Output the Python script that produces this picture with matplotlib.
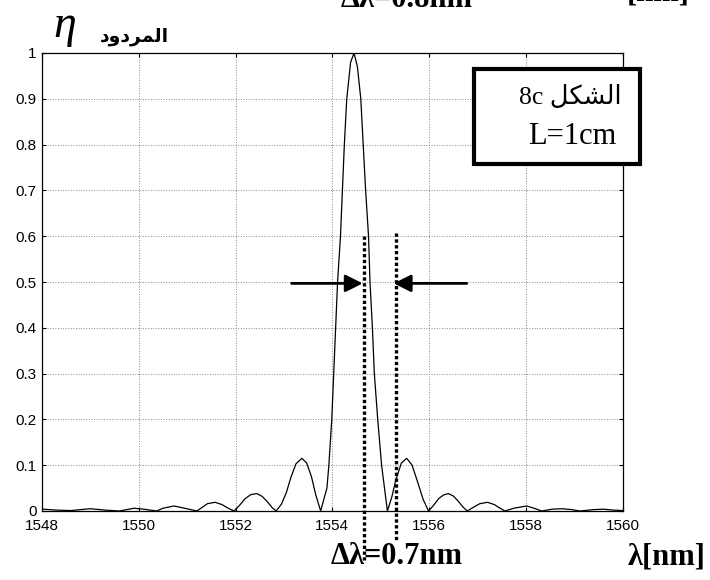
import matplotlib
matplotlib.use('Agg')
import matplotlib.pyplot as plt
from matplotlib.patches import Rectangle

# 全局样式
plt.rcParams['font.family'] = ['Liberation Sans', 'DejaVu Sans']
plt.rcParams['axes.unicode_minus'] = False

# 反射谱数据
wavelength = [1548.0, 1548.3, 1548.6, 1549.0, 1549.3, 1549.6, 1549.9, 1550.1,
              1550.37, 1550.5, 1550.73, 1550.95, 1551.2,
              1551.3, 1551.42, 1551.58, 1551.72, 1551.85, 1551.97,
              1552.08, 1552.2, 1552.32, 1552.44, 1552.55, 1552.66, 1552.76, 1552.84,
              1552.95, 1553.05, 1553.15, 1553.25, 1553.37, 1553.47, 1553.57, 1553.66, 1553.76,
              1553.89, 1553.93, 1553.99, 1554.03, 1554.07, 1554.11, 1554.17, 1554.21,
              1554.25, 1554.30, 1554.38, 1554.45, 1554.52, 1554.59, 1554.64, 1554.69,
              1554.75, 1554.78, 1554.83, 1554.87, 1554.94, 1555.02, 1555.14,
              1555.23, 1555.32, 1555.43, 1555.54, 1555.65, 1555.76, 1555.88, 1555.99,
              1556.1, 1556.2, 1556.3, 1556.40, 1556.5, 1556.6, 1556.7, 1556.79,
              1556.9, 1557.05, 1557.21, 1557.35, 1557.47, 1557.57,
              1557.75, 1558.02, 1558.2, 1558.33,
              1558.55, 1558.75, 1558.95, 1559.12, 1559.4, 1559.61, 1559.8, 1560.0]
reflectivity = [0.004, 0.002, 0.001, 0.005, 0.002, 0.0, 0.006, 0.004,
                0.0, 0.006, 0.011, 0.006, 0.0,
                0.007, 0.016, 0.019, 0.014, 0.006, 0.0,
                0.012, 0.027, 0.036, 0.038, 0.032, 0.020, 0.007, 0.0,
                0.015, 0.040, 0.075, 0.103, 0.115, 0.105, 0.075, 0.035, 0.0,
                0.05, 0.1, 0.2, 0.3, 0.4, 0.5, 0.6, 0.7,
                0.8, 0.9, 0.98, 1.0, 0.97, 0.9, 0.8, 0.7,
                0.6, 0.5, 0.4, 0.3, 0.2, 0.1, 0.0,
                0.03, 0.07, 0.105, 0.115, 0.10, 0.065, 0.025, 0.0,
                0.013, 0.027, 0.035, 0.038, 0.033, 0.022, 0.009, 0.0,
                0.007, 0.016, 0.019, 0.014, 0.006, 0.0,
                0.006, 0.011, 0.005, 0.0,
                0.004, 0.005, 0.003, 0.0, 0.003, 0.004, 0.002, 0.001]

x_ticks = [1548, 1550, 1552, 1554, 1556, 1558, 1560]
y_ticks = [0, 0.1, 0.2, 0.3, 0.4, 0.5, 0.6, 0.7, 0.8, 0.9, 1]
y_labels = ['0', '0.1', '0.2', '0.3', '0.4', '0.5', '0.6', '0.7', '0.8', '0.9', '1']

# 阿拉伯文（已手工连写并按显示顺序排列）
ylabel_ar = '\uFEA9\uFEED\uFEA9\uFEAE\uFEE4\uFEDF\uFE8D'      # المردود
fig_ar = '\uFEDE\uFEDC\uFEB8\uFEDF\uFE8D'                    # الشكل

W, H = 710, 580
fig = plt.figure(figsize=(W / 100, H / 100), dpi=100)
ax = fig.add_axes([42 / W, 1 - 511 / H, (622.5 - 42) / W, (511 - 53) / H])

ax.plot(wavelength, reflectivity, color='black', linewidth=0.9)

ax.set_xlim(1548, 1560)
ax.set_ylim(0, 1)
ax.set_xticks(x_ticks)
ax.set_yticks(y_ticks)
ax.set_yticklabels(y_labels)
ax.tick_params(direction='in', length=3, width=0.8, top=True, right=True,
               labelsize=11)
ax.tick_params(axis='x', pad=6)
ax.tick_params(axis='y', pad=4)
ax.grid(True, color='#888888', linestyle=':', linewidth=0.7)
for sp in ax.spines.values():
    sp.set_linewidth(0.9)

# ========== 箭头与虚线 ==========
arrow_kw = dict(arrowstyle='-|>,head_length=0.4,head_width=0.2', color='black',
                lw=2, mutation_scale=26, shrinkA=0, shrinkB=0)
ax.annotate('', xy=(1554.63, 0.497), xytext=(1553.16, 0.497),
            arrowprops=arrow_kw, annotation_clip=False)
ax.annotate('', xy=(1555.27, 0.497), xytext=(1556.78, 0.497),
            arrowprops=arrow_kw, annotation_clip=False)

dot_kw = dict(color='black', linewidth=2.4, linestyle=(0, (1, 0.75)),
              solid_capstyle='butt', dash_capstyle='butt', clip_on=False)
ax.plot([1554.66, 1554.66], [0.60, -0.107], **dot_kw)
ax.plot([1555.31, 1555.31], [0.607, -0.068], **dot_kw)

# ========== 文字 ==========
fig.text(65 / W, 1 - 26 / H, '\u03b7', family='Liberation Serif', style='italic',
         fontsize=33, ha='center', va='center')
fig.text(134 / W, 1 - 37 / H, ylabel_ar, family='DejaVu Sans', weight='bold',
         fontsize=13.5, ha='center', va='center')

fig.text(397 / W, 1 - 557 / H, '\u0394\u03bb=0.7nm', family='Liberation Serif',
         weight='bold', fontsize=22, ha='center', va='center')
fig.text(667 / W, 1 - 557 / H, '\u03bb[nm]', family='Liberation Serif',
         weight='bold', fontsize=22, ha='center', va='center')

# 顶部被裁切的文字（参考图中即为裁切状态）
fig.text(473 / W, 1 - 7 / H, '\u0394\u03bb=0.8nm', family='Liberation Serif',
         weight='bold', fontsize=22, ha='right', va='baseline')
fig.text(627 / W, 1 - 0.5 / H, '[nm]', family='Liberation Serif',
         weight='bold', fontsize=22, ha='left', va='baseline')

# 图例框
fig.add_artist(Rectangle((473.7 / W, 1 - 164 / H), 166 / W, 94.7 / H,
                         transform=fig.transFigure, facecolor='white',
                         edgecolor='black', linewidth=3, zorder=5))
fig.text(570 / W, 1 - 97 / H, '8c ' + fig_ar,
         family=['Liberation Serif', 'DejaVu Sans'], fontsize=18.5,
         ha='center', va='center', zorder=6)
fig.text(572 / W, 1 - 137 / H, 'L=1cm', family='Liberation Serif', fontsize=22,
         ha='center', va='center', zorder=6)

fig.savefig('out.png', dpi=100)
